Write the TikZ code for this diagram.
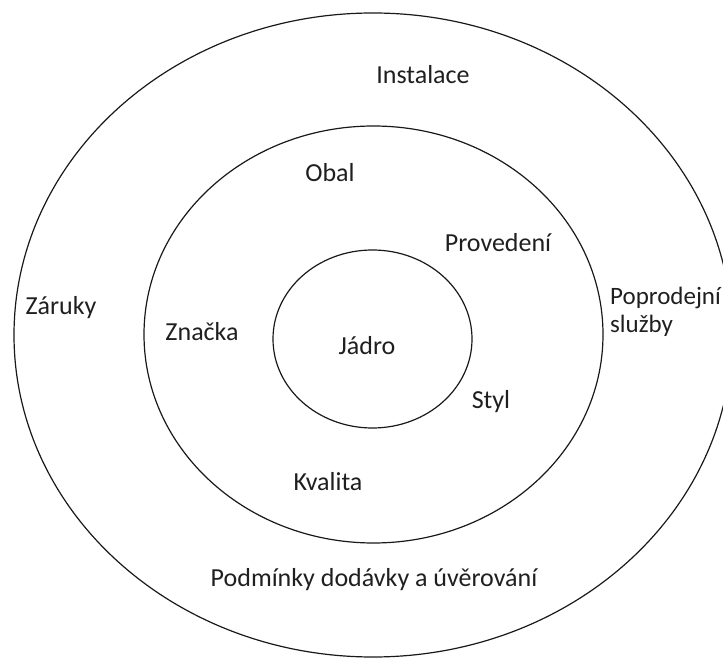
\documentclass[tikz,border=0pt]{standalone}
\usepackage{fontspec}
\setmainfont{Carlito}
\begin{document}
\begin{tikzpicture}[x=1pt,y=1pt,
  ring/.style={draw=black!90, line width=1.2pt},
  lbl/.style={font=\fontsize{26}{28}\selectfont, text=black!88, inner sep=1pt}]
\useasboundingbox (0,0) rectangle (723,659);
% three nested layers of the product
\draw[ring] (373,324) ellipse [x radius=359, y radius=322];
\draw[ring] (373.5,324.5) ellipse [x radius=229.5, y radius=208.5];
\draw[ring] (372.5,320) ellipse [x radius=99.5, y radius=89];
% labels
\node[lbl] (instalace) at (423,584) {Instalace};
\node[lbl] (obal) at (330,486) {Obal};
\node[lbl] (provedeni) at (498,416) {Provedení};
\node[lbl] (zaruky) at (61,351) {Záruky};
\node[lbl] (znacka) at (202,327) {Značka};
\node[lbl] (jadro) at (367,313) {Jádro};
\node[lbl, font=\fontsize{25}{28}\selectfont, anchor=west, align=left, inner sep=0pt] (sluzby) at (610,347) {Poprodejní\\služby};
\node[lbl] (styl) at (491,257) {Styl};
\node[lbl] (kvalita) at (328,177) {Kvalita};
\node[lbl] (podminky) at (374,79) {Podmínky dodávky a úvěrování};
\end{tikzpicture}
\end{document}
